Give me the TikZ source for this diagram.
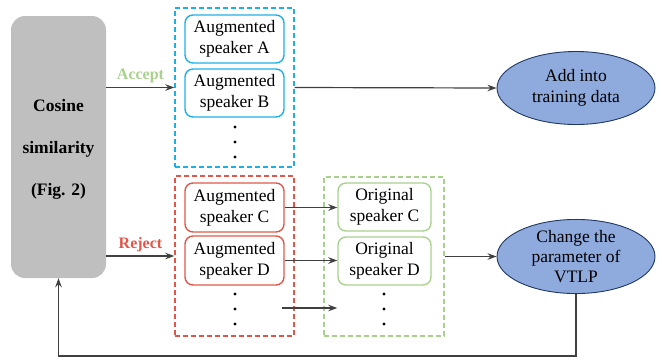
\documentclass[tikz,border=0pt]{standalone}
\usepackage{fontspec}
\setmainfont{Liberation Serif}
\usetikzlibrary{arrows.meta,shapes.geometric}
\definecolor{cblue}{HTML}{1CB0E8}
\definecolor{cred}{HTML}{E0574A}
\definecolor{cgreen}{HTML}{A9D18E}
\definecolor{cgray}{HTML}{BFBFBF}
\definecolor{cfill}{HTML}{8FAADC}
\definecolor{cnavy}{HTML}{1F3864}
\definecolor{carrow}{HTML}{404040}
\tikzset{
  txt/.style={font=\rmfamily\fontsize{17.5}{21}\selectfont, align=center},
  grp/.style={draw, dashed, dash pattern=on 5pt off 3pt, line width=1.4pt, minimum width=119pt, minimum height=159pt, inner sep=0pt},
  spk/.style={txt, draw, rounded corners=8pt, line width=1.4pt, minimum width=99pt, minimum height=48pt, inner sep=0pt},
  ell/.style={txt, ellipse, draw=cnavy, fill=cfill, line width=0.9pt, minimum width=158pt, minimum height=73pt, inner sep=0pt},
  conn/.style={draw=carrow, line width=1.2pt, -{Stealth[length=9pt,width=6.5pt]}},
  dotn/.style={circle, fill=black, minimum size=3.4pt, inner sep=0pt},
  lab/.style={font=\rmfamily\bfseries\fontsize{16}{19}\selectfont}
}
\begin{document}
\begin{tikzpicture}[x=1pt,y=-1pt]
\useasboundingbox (0,0) rectangle (665,360);
% gray block
\node[fill=cgray, rounded corners=14pt, minimum width=95pt, minimum height=262pt, inner sep=0pt] (gray) at (58.5,147) {};
\node[font=\rmfamily\bfseries\fontsize{17.5}{42}\selectfont, align=center] (graytxt) at (58.5,149.5) {Cosine\\similarity\\(Fig. 2)};
% groups
\node[grp, draw=cblue] (bluebox) at (234.5,87.5) {};
\node[grp, draw=cred, minimum height=160pt] (redbox) at (234.5,256) {};
\node[grp, draw=cgreen, minimum width=120pt] (greenbox) at (384,256.5) {};
% speakers
\node[spk, draw=cblue] (A) at (234.5,39) {Augmented\\speaker A};
\node[spk, draw=cblue] (B) at (234.5,93) {Augmented\\speaker B};
\node[spk, draw=cred, minimum height=49pt] (C) at (234.5,207.5) {Augmented\\speaker C};
\node[spk, draw=cred, minimum height=49pt] (D) at (234.5,260.5) {Augmented\\speaker D};
\node[spk, draw=cgreen, minimum width=93pt] (OC) at (384.5,207) {Original\\speaker C};
\node[spk, draw=cgreen, minimum width=93pt] (OD) at (384.5,261) {Original\\speaker D};
% dots
\node[dotn] (b1) at (235,127) {};
\node[dotn] (b2) at (235,142) {};
\node[dotn] (b3) at (235,157) {};
\node[dotn] (r1) at (235,294) {};
\node[dotn] (r2) at (235,309) {};
\node[dotn] (r3) at (235,324) {};
\node[dotn] (g1) at (384,294) {};
\node[dotn] (g2) at (384,309) {};
\node[dotn] (g3) at (384,324) {};
% ellipses
\node[ell] (e1) at (576,88) {Add into\\training data};
\node[ell, font=\rmfamily\fontsize{17.5}{20}\selectfont] (e2) at (576,256.5) {Change the\\parameter of\\VTLP};
% labels
\node[lab, text=cgreen] (acc) at (140.5,76) {Accept};
\node[lab, text=cred] (rej) at (140.5,245) {Reject};
% connectors
\draw[conn] (gray.east |- bluebox.center) -- (bluebox.west);
\draw[conn] (gray.east |- redbox.center) -- (redbox.west);
\draw[conn] (bluebox.east) -- (e1.west);
\draw[conn] (C.east) -- (C.east -| OC.west);
\draw[conn] (D.east) -- (D.east -| OD.west);
\coordinate (s3) at (282,308);
\draw[conn] (s3) -- (s3 -| OD.west);
\draw[conn] (greenbox.east) -- (e2.west);
\coordinate (fb) at (0,356);
\draw[conn] (e2.south) -- (e2.south |- fb) -| (gray.south);
\end{tikzpicture}
\end{document}
